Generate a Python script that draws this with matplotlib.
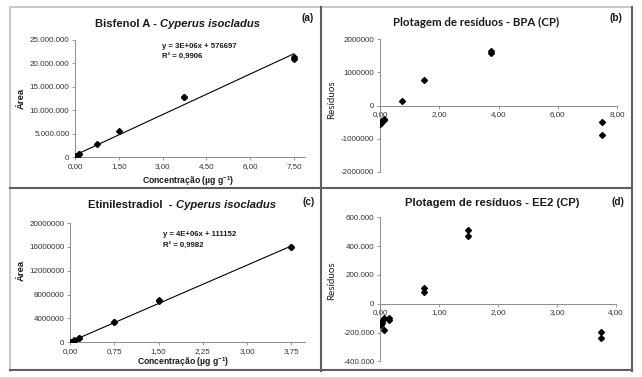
import matplotlib
matplotlib.use('Agg')
import matplotlib.pyplot as plt
import numpy as np
from matplotlib.lines import Line2D
from matplotlib.ticker import FuncFormatter

plt.rcParams['font.family'] = ['Liberation Sans', 'DejaVu Sans']

# --- data ---
conc_bpa = [0.015, 0.015, 0.03, 0.03, 0.075, 0.075, 0.15, 0.15, 0.75, 1.5, 3.75, 3.75, 7.5, 7.5]
area_bpa = [60e3, 80e3, 140e3, 160e3, 300e3, 320e3, 540e3, 580e3, 2.78e6, 5.55e6,
            12.75e6, 12.9e6, 21.0e6, 21.35e6]
resid_bpa = [-560e3, -540e3, -520e3, -500e3, -480e3, -460e3, -440e3, -420e3, 130e3, 770e3,
             1.58e6, 1.65e6, -900e3, -510e3]

conc_ee2 = [0.015, 0.015, 0.03, 0.03, 0.075, 0.075, 0.15, 0.15, 0.75, 0.75, 1.5, 1.5, 3.75, 3.75]
area_ee2 = [30e3, 50e3, 100e3, 120e3, 320e3, 250e3, 640e3, 660e3, 3.35e6, 3.4e6,
            6.95e6, 7.05e6, 15.9e6, 16.0e6]
resid_ee2 = [-150e3, -140e3, -135e3, -120e3, -100e3, -185e3, -110e3, -100e3, 78e3, 108e3,
             470e3, 513e3, -236e3, -194e3]

eq_bpa = ['y = 3E+06x + 576697', 'R² = 0,9906']
eq_ee2 = ['y = 4E+06x + 111152', 'R² = 0,9982']

W, H = 642, 377
fig = plt.figure(figsize=(W / 100, H / 100), dpi=100)
fig.patch.set_facecolor('white')


def rect(x0, y0, x1, y1):
    return [x0 / W, 1 - y1 / H, (x1 - x0) / W, (y1 - y0) / H]


def ftext(x, y, s, **kw):
    fig.text(x / W, 1 - y / H, s, **kw)


def br(v):
    return '{:,.0f}'.format(v).replace(',', '.')


def dec(v, p):
    return ('{:.2f}'.format(v)).replace('.', ',')


tick_col = '#333333'
spine_col = '#8c8c8c'


def style(ax, zero_spine=False):
    for s in ['top', 'right']:
        ax.spines[s].set_visible(False)
    for s in ['left', 'bottom']:
        ax.spines[s].set_color(spine_col)
        ax.spines[s].set_linewidth(0.7)
    if zero_spine:
        ax.spines['bottom'].set_position(('data', 0))
    ax.tick_params(axis='both', labelsize=5.8, colors=spine_col, labelcolor=tick_col,
                   length=2, width=0.6, pad=2)
    ax.patch.set_alpha(0)


def fitline(ax, x, y):
    m, b = np.polyfit(x, y, 1)
    xx = np.array([min(x), max(x)])
    ax.plot(xx, m * xx + b, color='black', lw=0.8, zorder=2)


mk = dict(marker='D', ms=3.0, color='black', ls='none', zorder=3)

# (a)
ax = fig.add_axes(rect(75, 40, 305, 157))
style(ax)
fitline(ax, conc_bpa, area_bpa)
ax.plot(conc_bpa, area_bpa, **mk)
ax.set_xlim(0, 7.88)
ax.set_ylim(0, 25e6)
ax.set_xticks(np.arange(0, 7.51, 1.5))
ax.set_yticks(np.arange(0, 25e6 + 1, 5e6))
ax.xaxis.set_major_formatter(FuncFormatter(dec))
ax.yaxis.set_major_formatter(FuncFormatter(lambda v, p: br(v)))

# (b)
ax = fig.add_axes(rect(380, 39, 617, 172))
style(ax, zero_spine=True)
ax.plot(conc_bpa, resid_bpa, **mk)
ax.set_xlim(0, 8)
ax.set_ylim(-2e6, 2e6)
ax.set_xticks(np.arange(0, 8.01, 2))
ax.set_yticks(np.arange(-2e6, 2e6 + 1, 1e6))
ax.xaxis.set_major_formatter(FuncFormatter(dec))
ax.yaxis.set_major_formatter(FuncFormatter(lambda v, p: '{:.0f}'.format(v)))

# (c)
ax = fig.add_axes(rect(70, 223, 305, 342.3))
style(ax)
fitline(ax, conc_ee2, area_ee2)
ax.plot(conc_ee2, area_ee2, **mk)
ax.set_xlim(0, 3.98)
ax.set_ylim(0, 20e6)
ax.set_xticks(np.arange(0, 3.76, 0.75))
ax.set_yticks(np.arange(0, 20e6 + 1, 4e6))
ax.xaxis.set_major_formatter(FuncFormatter(dec))
ax.yaxis.set_major_formatter(FuncFormatter(lambda v, p: '{:.0f}'.format(v)))

# (d)
ax = fig.add_axes(rect(380, 217.3, 616, 361.3))
style(ax, zero_spine=True)
ax.plot(conc_ee2, resid_ee2, **mk)
ax.set_xlim(0, 4)
ax.set_ylim(-400e3, 600e3)
ax.set_xticks(np.arange(0, 4.01, 1))
ax.set_yticks(np.arange(-400e3, 600e3 + 1, 200e3))
ax.xaxis.set_major_formatter(FuncFormatter(dec))
ax.yaxis.set_major_formatter(FuncFormatter(lambda v, p: br(v)))

# titles
tkw = dict(fontsize=8.1, fontweight='bold', va='center', color='#1a1a1a')
ftext(160, 24, 'Bisfenol A - ', ha='right', **tkw)
ftext(160, 24, 'Cyperus isocladus', ha='left', style='italic', **tkw)
ftext(176, 205, 'Etinilestradiol  - ', ha='right', **tkw)
ftext(176, 205, 'Cyperus isocladus', ha='left', style='italic', **tkw)
ftext(476.5, 22, 'Plotagem de resíduos - BPA (CP)', ha='center', va='center',
      fontsize=8.3, fontweight='bold', family=['Lato', 'DejaVu Sans'], color='#1a1a1a')
ftext(492.5, 203, 'Plotagem de resíduos - EE2 (CP)', ha='center', **tkw)

pkw = dict(fontsize=7.2, fontweight='bold', ha='center', va='center', color='#1a1a1a')
ftext(308, 18, '(a)', **pkw)
ftext(616, 18, '(b)', **pkw)
ftext(309, 202, '(c)', **pkw)
ftext(617.5, 202, '(d)', **pkw)

# equations
ekw = dict(fontsize=5.6, fontweight='bold', ha='left', va='center', color='#1a1a1a')
ftext(162, 46, eq_bpa[0], **ekw)
ftext(162, 56, eq_bpa[1], **ekw)
ftext(163, 235, eq_ee2[0], **ekw)
ftext(163, 245, eq_ee2[1], **ekw)

# axis labels
xl = r'Concentração (µg g$^{\mathregular{-1}}$)'
lkw = dict(fontsize=6.2, fontweight='bold', ha='center', va='center', color='#1a1a1a')
ftext(188, 181, xl, **lkw)
ftext(183, 362, xl, **lkw)
ftext(21.7, 98, 'Área', rotation=90, fontsize=6.8, fontweight='bold', ha='center',
      va='center', color='#1a1a1a')
ftext(21.7, 270, 'Área', rotation=90, fontsize=6.8, fontweight='bold', ha='center',
      va='center', color='#1a1a1a')
rkw = dict(fontsize=7.0, ha='center', va='center', rotation=90, color='#1a1a1a',
           family=['Lato', 'DejaVu Sans'])
ftext(332, 100, 'Resíduos', **rkw)
ftext(332, 281, 'Resíduos', **rkw)


# panel frame lines
def fline(x0, y0, x1, y1, color, lw):
    fig.add_artist(Line2D([x0 / W, x1 / W], [1 - y0 / H, 1 - y1 / H],
                          color=color, lw=lw, transform=fig.transFigure))


light = '#c8c8c8'
dark = '#5f5f5f'
fline(10, 7, 632, 7, light, 1.4)
fline(10, 7, 10, 371, light, 1.4)
fline(10, 188.3, 632, 188.3, dark, 1.5)
fline(320.7, 7, 320.7, 371, dark, 1.5)
fline(631.7, 7, 631.7, 371, dark, 1.5)
fline(10, 370, 632, 370, dark, 1.5)

fig.savefig('out.png', dpi=100)
